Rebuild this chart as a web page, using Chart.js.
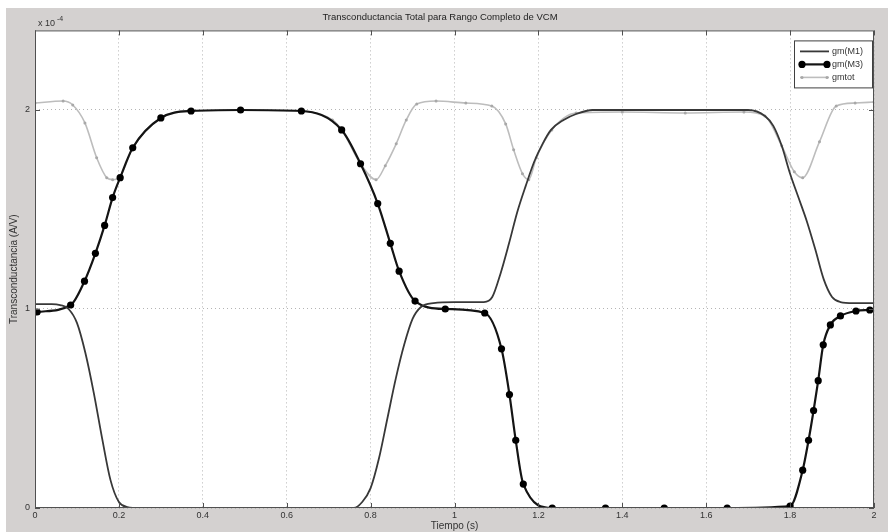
<!DOCTYPE html>
<html>
<head>
<meta charset="utf-8">
<script src="https://cdn.jsdelivr.net/npm/chart.js@4.4.1/dist/chart.umd.min.js"></script>
<style>
  html, body { margin: 0; padding: 0; background: #fff; }
  canvas { display: block; }
</style>
</head>
<body>
<canvas id="chart" width="888" height="532"></canvas>
<script>
// tick positions and labels
const xTicks = [0, 0.2, 0.4, 0.6, 0.8, 1, 1.2, 1.4, 1.6, 1.8, 2];
const xTickLabels = ['0', '0.2', '0.4', '0.6', '0.8', '1', '1.2', '1.4', '1.6', '1.8', '2'];
const yTicks = [0, 1, 2];
const yTickLabels = ['0', '1', '2'];

// gm(M1) - thin line
const m1X = [0, 0.04, 0.06, 0.08, 0.10, 0.12, 0.14, 0.16, 0.18, 0.20,
             0.22, 0.25, 0.3, 0.5, 0.72, 0.76, 0.78, 0.80, 0.82, 0.84,
             0.86, 0.88, 0.90, 0.92, 0.95, 1.0, 1.07, 1.09, 1.11, 1.13,
             1.15, 1.17, 1.19, 1.21, 1.23, 1.26, 1.29, 1.33, 1.5, 1.70,
             1.74, 1.76, 1.78, 1.80, 1.82, 1.84, 1.86, 1.88, 1.90, 1.92,
             1.95, 2.0];
const m1Y = [1.025, 1.025, 1.02, 1.0, 0.93, 0.78, 0.58, 0.35, 0.14, 0.03,
             0.005, 0, 0, 0, 0, 0, 0.03, 0.10, 0.25, 0.45,
             0.65, 0.82, 0.95, 1.01, 1.03, 1.035, 1.035, 1.06, 1.18, 1.33,
             1.49, 1.62, 1.74, 1.83, 1.90, 1.95, 1.98, 2.0, 2.0, 2.0,
             1.97, 1.92, 1.82, 1.68, 1.56, 1.44, 1.30, 1.15, 1.06, 1.035,
             1.03, 1.03];

// gm(M3) - line with markers
const m3X = [0.005, 0.085, 0.118, 0.144, 0.166, 0.185, 0.203, 0.233, 0.30, 0.372,
             0.49, 0.635, 0.731, 0.776, 0.817, 0.847, 0.868, 0.906, 0.978, 1.072,
             1.112, 1.131, 1.146, 1.164, 1.233, 1.36, 1.50, 1.65, 1.80, 1.83,
             1.844, 1.856, 1.867, 1.879, 1.896, 1.92, 1.957, 1.99];
const m3Y = [0.985, 1.02, 1.14, 1.28, 1.42, 1.56, 1.66, 1.81, 1.96, 1.995,
             2.0, 1.995, 1.90, 1.73, 1.53, 1.33, 1.19, 1.04, 1.0, 0.98,
             0.80, 0.57, 0.34, 0.12, 0, 0, 0, 0, 0.01, 0.19,
             0.34, 0.49, 0.64, 0.82, 0.92, 0.965, 0.99, 0.995];

// gmtot - light gray
const totX = [0, 0.067, 0.09, 0.119, 0.147, 0.171, 0.185, 0.204, 0.233, 0.30,
              0.372, 0.49, 0.635, 0.709, 0.731, 0.776, 0.813, 0.835, 0.861, 0.885,
              0.91, 0.956, 1.027, 1.089, 1.122, 1.141, 1.162, 1.177, 1.195, 1.232,
              1.29, 1.40, 1.55, 1.69, 1.74, 1.78, 1.81, 1.83, 1.87, 1.91,
              1.955, 2.0];
const totY = [2.035, 2.045, 2.025, 1.935, 1.76, 1.66, 1.65, 1.67, 1.81, 1.96,
              1.995, 2.0, 1.995, 1.95, 1.90, 1.73, 1.65, 1.72, 1.83, 1.95,
              2.03, 2.045, 2.035, 2.02, 1.93, 1.80, 1.68, 1.65, 1.76, 1.90,
              1.985, 1.99, 1.985, 1.99, 1.97, 1.82, 1.69, 1.66, 1.84, 2.02,
              2.035, 2.04];

const FONT = "'Liberation Sans', Arial, sans-serif";

function toPoints(xs, ys) {
    return xs.map((x, i) => ({x: x, y: ys[i]}));
}

// gray figure, white axes, frame and inner tick marks (matlab look)
const figureStyle = {
    id: 'figureStyle',
    beforeDraw(chart) {
        const ctx = chart.ctx;
        const a = chart.chartArea;
        ctx.save();
        ctx.fillStyle = '#d4d1d0';
        ctx.fillRect(6, 8, chart.width - 6, chart.height - 8);
        ctx.fillStyle = '#ffffff';
        ctx.fillRect(a.left, a.top, a.right - a.left, a.bottom - a.top);
        ctx.restore();
    },
    afterDraw(chart) {
        const ctx = chart.ctx;
        const a = chart.chartArea;
        const x = chart.scales.x;
        const y = chart.scales.y;
        ctx.save();
        ctx.strokeStyle = '#505050';
        ctx.lineWidth = 1;
        ctx.strokeRect(a.left + 0.5, a.top + 0.5, a.right - a.left - 1, a.bottom - a.top - 1);
        ctx.beginPath();
        xTicks.forEach(v => {
            const px = Math.round(x.getPixelForValue(v)) + 0.5;
            ctx.moveTo(px, a.bottom); ctx.lineTo(px, a.bottom - 5);
            ctx.moveTo(px, a.top); ctx.lineTo(px, a.top + 5);
        });
        yTicks.forEach(v => {
            const py = Math.round(y.getPixelForValue(v)) + 0.5;
            ctx.moveTo(a.left, py); ctx.lineTo(a.left + 5, py);
            ctx.moveTo(a.right, py); ctx.lineTo(a.right - 5, py);
        });
        ctx.stroke();
        // exponent label
        ctx.fillStyle = '#333';
        ctx.font = '9px ' + FONT;
        ctx.textBaseline = 'alphabetic';
        ctx.fillText('x 10', a.left + 3, a.top - 4);
        ctx.font = '7px ' + FONT;
        ctx.fillText('-4', a.left + 22, a.top - 9);
        ctx.restore();
    }
};

// boxed legend inside the axes, top right
const legendBox = {
    id: 'legendBox',
    afterDraw(chart) {
        const ctx = chart.ctx;
        const a = chart.chartArea;
        const w = 78, h = 47;
        const x0 = a.right - w - 2, y0 = a.top + 10;
        ctx.save();
        ctx.fillStyle = '#ffffff';
        ctx.fillRect(x0, y0, w, h);
        ctx.strokeStyle = '#404040';
        ctx.lineWidth = 1;
        ctx.strokeRect(x0 + 0.5, y0 + 0.5, w, h);
        ctx.font = '9px ' + FONT;
        ctx.textBaseline = 'middle';
        chart.data.datasets.forEach((ds, i) => {
            const ly = y0 + 11 + i * 13;
            ctx.strokeStyle = ds.borderColor;
            ctx.lineWidth = ds.borderWidth;
            ctx.beginPath();
            ctx.moveTo(x0 + 6, ly);
            ctx.lineTo(x0 + 35, ly);
            ctx.stroke();
            if (ds.pointRadius > 0) {
                ctx.fillStyle = ds.pointBackgroundColor;
                [x0 + 8, x0 + 33].forEach(px => {
                    ctx.beginPath();
                    ctx.arc(px, ly, ds.pointRadius, 0, Math.PI * 2);
                    ctx.fill();
                });
            }
            ctx.fillStyle = '#333';
            ctx.fillText(ds.label, x0 + 38, ly);
        });
        ctx.restore();
    }
};

new Chart(document.getElementById('chart'), {
    type: 'line',
    data: {
        datasets: [
            {
                label: 'gm(M1)',
                data: toPoints(m1X, m1Y),
                borderColor: '#383838',
                borderWidth: 1.8,
                pointRadius: 0,
                cubicInterpolationMode: 'monotone'
            },
            {
                label: 'gm(M3)',
                data: toPoints(m3X, m3Y),
                borderColor: '#141414',
                borderWidth: 2.2,
                pointRadius: 3.6,
                pointBackgroundColor: '#000000',
                pointBorderColor: '#000000',
                pointBorderWidth: 0,
                cubicInterpolationMode: 'monotone'
            },
            {
                label: 'gmtot',
                data: toPoints(totX, totY),
                borderColor: '#bdbdbd',
                borderWidth: 1.6,
                pointRadius: 1.5,
                pointBackgroundColor: '#a8a8a8',
                pointBorderColor: '#a8a8a8',
                pointBorderWidth: 0,
                cubicInterpolationMode: 'monotone'
            }
        ]
    },
    options: {
        responsive: false,
        animation: false,
        devicePixelRatio: 1,
        layout: {
            padding: {left: 6, right: 14, top: 0, bottom: 0}
        },
        plugins: {
            legend: {display: false},
            tooltip: {enabled: false},
            title: {
                display: true,
                text: 'Transconductancia Total para Rango Completo de VCM',
                color: '#222',
                font: {family: FONT, size: 9.5, weight: 'normal'},
                padding: {top: 12, bottom: 7}
            }
        },
        scales: {
            x: {
                type: 'linear',
                min: 0,
                max: 2,
                afterBuildTicks: axis => { axis.ticks = xTicks.map(v => ({value: v})); },
                afterFit: scale => { scale.height = 24; },
                ticks: {
                    color: '#333',
                    font: {family: FONT, size: 9},
                    padding: 2,
                    maxRotation: 0,
                    callback: (value, index) => xTickLabels[index]
                },
                grid: {
                    color: '#b4b4b4',
                    lineWidth: 1,
                    drawTicks: false
                },
                border: {display: false, dash: [1, 3]},
                title: {
                    display: true,
                    text: 'Tiempo (s)',
                    color: '#333',
                    font: {family: FONT, size: 10},
                    padding: {top: 0, bottom: 0}
                }
            },
            y: {
                type: 'linear',
                min: 0,
                max: 2.4,
                afterBuildTicks: axis => { axis.ticks = yTicks.map(v => ({value: v})); },
                afterFit: scale => { scale.width = 29; },
                ticks: {
                    color: '#333',
                    font: {family: FONT, size: 9},
                    padding: 5,
                    callback: (value, index) => yTickLabels[index]
                },
                grid: {
                    color: '#b4b4b4',
                    lineWidth: 1,
                    drawTicks: false
                },
                border: {display: false, dash: [1, 3]},
                title: {
                    display: true,
                    text: 'Transconductancia (A/V)',
                    color: '#333',
                    font: {family: FONT, size: 10},
                    padding: {top: 2, bottom: 0}
                }
            }
        }
    },
    plugins: [figureStyle, legendBox]
});
</script>
</body>
</html>
